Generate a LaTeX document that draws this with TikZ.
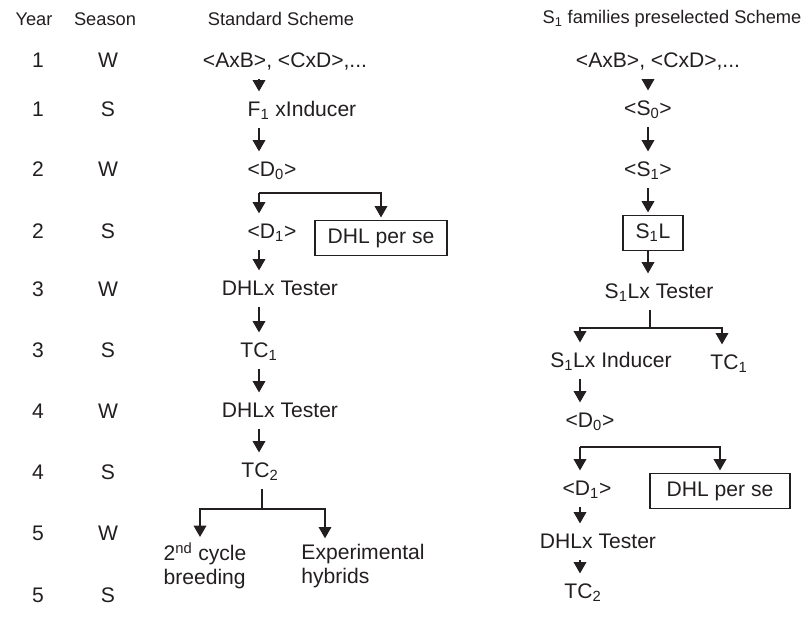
\documentclass[tikz,border=0pt]{standalone}
\usepackage{fontspec}
\setmainfont{Liberation Sans}
\usetikzlibrary{arrows.meta}
\definecolor{ink}{HTML}{231F20}

\begin{document}
\begin{tikzpicture}[x=0.025cm, y=-0.025cm,
	head/.style={inner sep=2pt, font=\fontsize{13}{16}\selectfont, text=ink},
	txt/.style={inner xsep=2pt, inner ysep=4.5pt, text height=11pt, text depth=3.5pt, font=\fontsize{15}{17}\selectfont, text=ink},
	twoline/.style={inner sep=2pt, align=left, font=\fontsize{15}{17}\selectfont, text=ink},
	result/.style={txt, draw=ink, line width=0.8pt, inner xsep=9pt, inner ysep=5pt},
	arr/.style={-{Triangle[width=9pt,length=8pt]}, line width=0.8pt, draw=ink, shorten >=2pt},
	lin/.style={line width=0.8pt, draw=ink}]
	\useasboundingbox (0,0) rectangle (810,617);

	% headers
	\node[head] (hYear) at (34,19) {Year};
	\node[head] (hSeason) at (105,19) {Season};
	\node[head] (hStd) at (281,19) {Standard Scheme};
	\node[head] (hPre) at (672,19) {S\textsubscript{1} families preselected Scheme};

	% year and season
	\foreach \yr/\ss/\ypos [count=\i] in {1/W/62, 1/S/111, 2/W/171, 2/S/233, 3/W/291, 3/S/352, 4/W/413, 4/S/474, 5/W/535, 5/S/597}{
		\node[txt] (yr\i) at (38,\ypos) {\yr};
		\node[txt] (ss\i) at (108,\ypos) {\ss};
	}

	% standard scheme
	\coordinate (colL) at (259,0);
	\node[txt] (std1) at (285,62) {<AxB>, <CxD>,...};
	\node[txt] (std2) at (302,111) {F\textsubscript{1} xInducer};
	\node[txt] (std3) at (272,171) {<D\textsubscript{0}>};
	\node[txt] (std4) at (272,233) {<D\textsubscript{1}>};
	\node[result] (std4b) at (381,238) {DHL per se};
	\node[txt] (std5) at (280,290) {DHLx Tester};
	\node[txt] (std6) at (259,352) {TC\textsubscript{1}};
	\node[txt] (std7) at (280,412) {DHLx Tester};
	\node[txt] (std8) at (260,472) {TC\textsubscript{2}};
	\node[twoline] (std9) at (205,566) {2\textsuperscript{nd} cycle\\breeding};
	\node[twoline] (std10) at (363,566) {Experimental\\hybrids};

	\draw[arr] (std1.south -| colL) -- (std2.north -| colL);
	\draw[arr] (std2.south -| colL) -- (std3.north -| colL);
	\coordinate (forkA) at (259,193);
	\draw[arr] (forkA) -- (std4.north -| forkA);
	\draw[arr] (forkA) -| (std4b);
	\draw[arr] (std4.south -| colL) -- (std5.north -| colL);
	\draw[arr] (std5.south -| colL) -- (std6.north -| colL);
	\draw[arr] (std6.south -| colL) -- (std7.north -| colL);
	\draw[arr] (std7.south -| colL) -- (std8.north -| colL);
	\coordinate (forkB) at (262,509);
	\coordinate (forkBl) at (200,509);
	\coordinate (forkBr) at (325,509);
	\draw[lin] (std8.south -| forkB) -- (forkB);
	\draw[arr] (forkB) -- (forkBl) -- (forkBl |- std9.north);
	\draw[arr] (forkB) -- (forkBr) -- (forkBr |- std10.north);

	% S1 families preselected scheme
	\coordinate (colR) at (648,0);
	\coordinate (colRb) at (580,0);
	\node[txt] (pre1) at (658,62) {<AxB>, <CxD>,...};
	\node[txt] (pre2) at (648,110) {<S\textsubscript{0}>};
	\node[txt] (pre3) at (648,171) {<S\textsubscript{1}>};
	\node[result] (pre4) at (653,233) {S\textsubscript{1}L};
	\node[txt] (pre5) at (659,293) {S\textsubscript{1}Lx Tester};
	\node[txt] (pre6) at (611,362) {S\textsubscript{1}Lx Inducer};
	\node[txt] (pre7) at (729,364) {TC\textsubscript{1}};
	\node[txt] (pre8) at (590,422) {<D\textsubscript{0}>};
	\node[txt] (pre9) at (587,490) {<D\textsubscript{1}>};
	\node[result, minimum width=3.5cm] (pre10) at (720,491) {DHL per se};
	\node[txt] (pre11) at (598,543) {DHLx Tester};
	\node[txt] (pre12) at (583,593) {TC\textsubscript{2}};

	\draw[arr] (pre1.south -| colR) -- (pre2.north -| colR);
	\draw[arr] (pre2.south -| colR) -- (pre3.north -| colR);
	\draw[arr] (pre3.south -| colR) -- (pre4.north -| colR);
	\draw[arr] (pre4.south -| colR) -- (pre5.north -| colR);
	\coordinate (forkC) at (650,328);
	\coordinate (forkCl) at (580,328);
	\coordinate (forkCr) at (722,328);
	\draw[lin] (pre5.south -| forkC) -- (forkC);
	\draw[arr] (forkC) -- (forkCl) -- (forkCl |- pre6.north);
	\draw[arr] (forkC) -- (forkCr) -- (forkCr |- pre7.north);
	\draw[arr] (pre6.south -| colRb) -- (pre8.north -| colRb);
	\coordinate (forkD) at (580,447);
	\draw[arr] (forkD) -- (pre9.north -| forkD);
	\draw[arr] (forkD) -| (pre10);
	\draw[arr] (pre9.south -| colRb) -- (pre11.north -| colRb);
	\draw[arr] (pre11.south -| colRb) -- (pre12.north -| colRb);
\end{tikzpicture}
\end{document}
